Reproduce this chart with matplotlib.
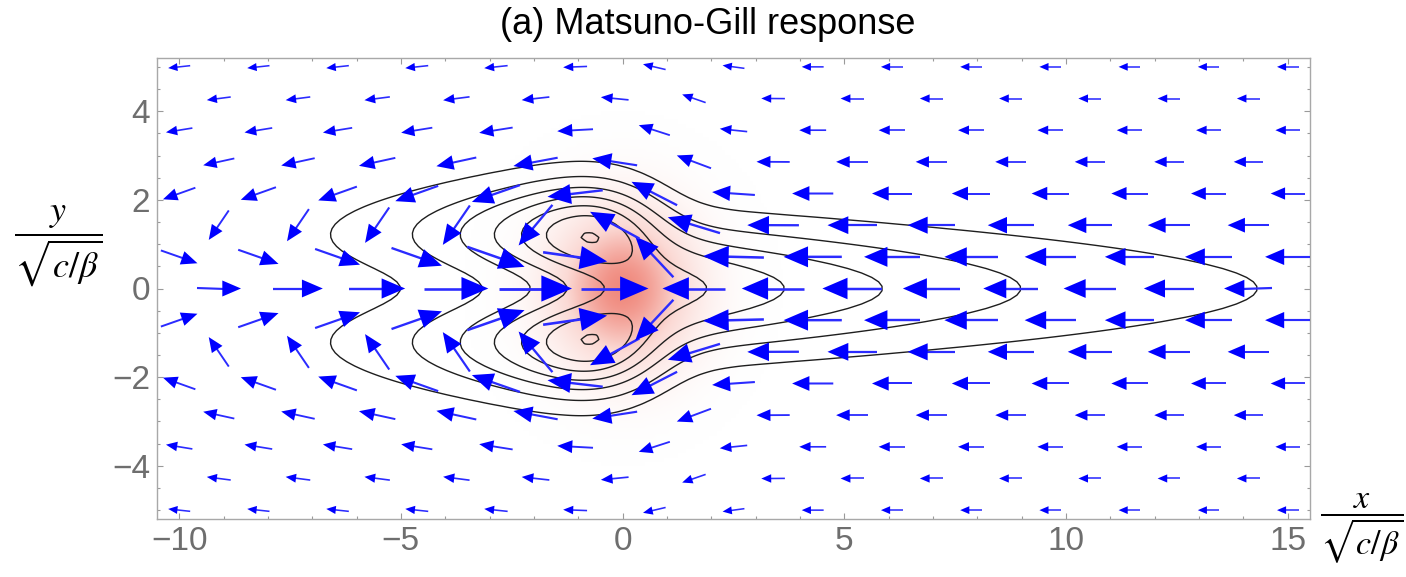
import numpy as np
import matplotlib
matplotlib.use('Agg')
import matplotlib.pyplot as plt
from matplotlib.colors import LinearSegmentedColormap
from matplotlib.ticker import MultipleLocator

plt.rcParams['font.family'] = ['Liberation Sans', 'DejaVu Sans']
plt.rcParams['mathtext.fontset'] = 'stix'

# damped Matsuno-Gill model, parameters
eps = 0.13          # damping rate (Kelvin decay east of the heating)
heat_sx = 0.9       # gaussian heating width in x
heat_sy = 1.0       # gaussian heating width in y

# arrow grid: 15 rows from -5 to 5, staggered columns from -10 to 15
arrow_rows = np.linspace(-5, 5, 15)
arrow_cols = np.linspace(-10, 15, 15)

# pressure contours: evenly spaced, outermost one meets the equator at x = 14.3
n_levels = 7
outer_cross = 14.3

title = '(a) Matsuno-Gill response'


def gill_solution(eps, sx, sy):
    # steady damped shallow water on the equatorial beta plane,
    # fourier in x, staggered finite differences in y
    nx, lx = 640, 160.0
    dx = lx / nx
    xs = -40.0 + dx * np.arange(nx)
    ny, ly = 160, 8.0
    dy = 2 * ly / ny
    yc = -ly + dy * (np.arange(ny) + 0.5)
    yf = -ly + dy * np.arange(1, ny)
    nf = ny - 1

    heat = np.exp(-xs[:, None]**2 / (2 * sx**2) - yc[None, :]**2 / (2 * sy**2))
    heat_k = np.fft.rfft(heat, axis=0)
    kk = 2 * np.pi * np.fft.rfftfreq(nx, d=dx)

    idx = np.arange(nf)
    avg = np.zeros((nf, ny))
    avg[idx, idx] = 0.5
    avg[idx, idx + 1] = 0.5
    grad = np.zeros((nf, ny))
    grad[idx, idx] = -1 / dy
    grad[idx, idx + 1] = 1 / dy
    div = -grad.T

    n = 2 * ny + nf
    A0 = np.zeros((n, n), complex)
    A0[:ny, :ny] = eps * np.eye(ny)
    A0[:ny, ny:ny + nf] = -avg.T * yf[None, :]
    A0[ny:ny + nf, :ny] = yf[:, None] * avg
    A0[ny:ny + nf, ny:ny + nf] = eps * np.eye(nf)
    A0[ny:ny + nf, ny + nf:] = grad
    A0[ny + nf:, ny:ny + nf] = div
    A0[ny + nf:, ny + nf:] = eps * np.eye(ny)

    sol = np.zeros((len(kk), n), complex)
    dgc = np.arange(ny)
    for i, k in enumerate(kk):
        A = A0.copy()
        A[dgc, ny + nf + dgc] = 1j * k
        A[ny + nf + dgc, dgc] = 1j * k
        rhs = np.zeros(n, complex)
        rhs[ny + nf:] = -heat_k[i]
        sol[i] = np.linalg.solve(A, rhs)

    # spectral refinement in x
    fine = 4
    xs = -40.0 + dx / fine * np.arange(nx * fine)
    u = np.fft.irfft(sol[:, :ny], n=nx * fine, axis=0) * fine
    vf = np.fft.irfft(sol[:, ny:ny + nf], n=nx * fine, axis=0) * fine
    p = np.fft.irfft(sol[:, ny + nf:], n=nx * fine, axis=0) * fine
    v = vf @ avg
    heat = np.exp(-xs[:, None]**2 / (2 * sx**2) - yc[None, :]**2 / (2 * sy**2))
    return xs, yc, u, v, p, heat


def sample(field, xs, ys, x0, y0):
    j = np.clip(np.searchsorted(ys, y0) - 1, 0, len(ys) - 2)
    w = (y0 - ys[j]) / (ys[j + 1] - ys[j])
    row = field[:, j] * (1 - w) + field[:, j + 1] * w
    return np.interp(x0, xs, row)


xs, ys, u, v, p, heat = gill_solution(eps, heat_sx, heat_sy)
sel_x = (xs > -11) & (xs < 16)
sel_y = (ys > -5.6) & (ys < 5.6)
xw, yw = xs[sel_x], ys[sel_y]
pw = p[np.ix_(sel_x, sel_y)].T
hw = heat[np.ix_(sel_x, sel_y)].T

fig = plt.figure(figsize=(14.06, 5.77), dpi=100)
ax = fig.add_axes([157 / 1406, 58 / 577, 1153 / 1406, 461 / 577])

# heating
heat_cmap = LinearSegmentedColormap.from_list('heat', ['#ffffff', '#fbd9d4', '#f08a7e'])
ax.imshow(hw**0.7, origin='lower', cmap=heat_cmap, extent=[xw[0], xw[-1], yw[0], yw[-1]],
          interpolation='bilinear', aspect='auto', zorder=0, vmin=0, vmax=1)

# pressure contours
delta = -sample(p, xs, ys, outer_cross, 0.0)
levels = -delta * np.arange(n_levels, 0, -1)
ax.contour(xw, yw, pw, levels=levels, colors='#1e1e1e', linewidths=1.0,
           linestyles='solid', zorder=2)

# wind arrows
pts = []
for r, yr in enumerate(arrow_rows):
    cols = arrow_cols if r % 2 == 0 else 0.5 * (arrow_cols[:-1] + arrow_cols[1:])
    for xc in cols:
        pts.append((xc, yr, sample(u, xs, ys, xc, yr), sample(v, xs, ys, xc, yr)))
pts = np.array(pts)
mag = np.hypot(pts[:, 2], pts[:, 3])
px_per_unit = 1153 / 26.0
len_px = 21 + 52 * (mag / mag.max())**0.3
for (x0, y0, uu, vv), lp in zip(pts, len_px):
    L = lp / px_per_unit
    d = np.array([uu, vv]) / np.hypot(uu, vv)
    nrm = np.array([-d[1], d[0]])
    tail = np.array([x0, y0]) - d * L / 2
    tip = np.array([x0, y0]) + d * L / 2
    base = tip - d * 0.42 * L
    ax.plot([tail[0], base[0] + d[0] * 0.05 * L], [tail[1], base[1] + d[1] * 0.05 * L],
            color='#2b2bff', lw=(1.0 + 0.025 * lp) * 0.72, solid_capstyle='butt', zorder=3)
    tri = np.array([tip, base + nrm * 0.18 * L, base - nrm * 0.18 * L])
    ax.fill(tri[:, 0], tri[:, 1], color='#0000ff', lw=0, zorder=3)

ax.set_xlim(-10.5, 15.5)
ax.set_ylim(-5.2, 5.2)
ax.xaxis.set_major_locator(MultipleLocator(5))
ax.xaxis.set_minor_locator(MultipleLocator(1))
ax.yaxis.set_major_locator(MultipleLocator(2))
ax.yaxis.set_minor_locator(MultipleLocator(0.5))
ax.tick_params(which='both', direction='in', top=True, right=True, color='#9a9a9a',
               width=0.8, labelcolor='#6e6e6e', labelsize=24)
ax.tick_params(which='major', length=4.5)
ax.tick_params(which='minor', length=2.5)
ax.tick_params(axis='x', pad=5)
ax.tick_params(axis='y', pad=5)
for s in ax.spines.values():
    s.set_color('#a8a8a8')
    s.set_linewidth(1.0)

fig.text(708 / 1406, 1 - 25 / 577, title, fontsize=26, ha='center', va='center')
fig.text(58 / 1406, 1 - 246 / 577, r'$\dfrac{y}{\sqrt{c/\beta}}$', fontsize=26,
         ha='center', va='center')
fig.text(1362 / 1406, 1 - 529 / 577, r'$\dfrac{x}{\sqrt{c/\beta}}$', fontsize=24.5,
         ha='center', va='center')

fig.savefig('out.png', dpi=100)
